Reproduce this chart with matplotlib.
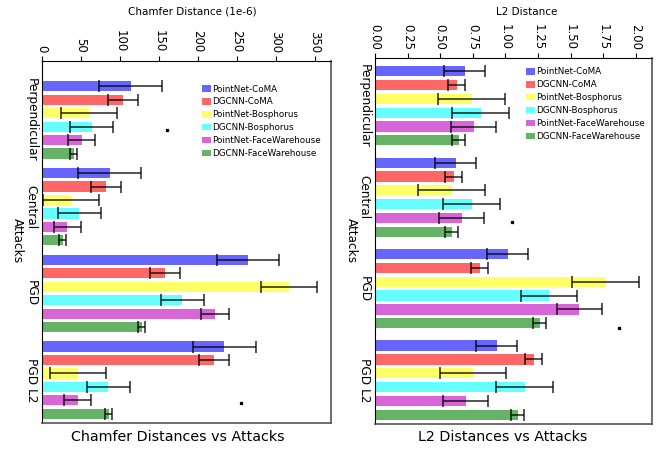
import numpy as np
import matplotlib
matplotlib.use("Agg")
import matplotlib.pyplot as plt

attacks = ["Perpendicular", "Central", "PGD", "PGD L2"]
models = ["PointNet-CoMA", "DGCNN-CoMA", "PointNet-Bosphorus",
          "DGCNN-Bosphorus", "PointNet-FaceWarehouse", "DGCNN-FaceWarehouse"]
colors = ["blue", "red", "yellow", "cyan", "m", "g"]

# chamfer distance (1e-6), one row per model, one column per attack
chamfer_mean = [
    [114, 87, 264, 234],
    [104, 82, 158, 221],
    [61, 38, 317, 46],
    [64, 48, 180, 85],
    [51, 33, 222, 46],
    [41, 27, 128, 86],
]
chamfer_err = [40, 19, 36, 27.5, 17.5, 4.7]

l2_mean = [
    [0.687, 0.618, 1.017, 0.932],
    [0.626, 0.603, 0.802, 1.216],
    [0.741, 0.587, 1.768, 0.751],
    [0.810, 0.741, 1.333, 1.147],
    [0.756, 0.664, 1.568, 0.695],
    [0.641, 0.587, 1.262, 1.093],
]
l2_err = [0.156, 0.067, 0.255, 0.217, 0.171, 0.05]

# stray points in the figure
chamfer_dots_x = [160.7, 255.8]
chamfer_dots_y = [0.116, 3.261]
l2_dots_x = [1.05, 1.872]
l2_dots_y = [1.269, 2.435]


def draw(ax, means, errs, step, height, ylim, dots_x, dots_y):
    index = np.arange(len(attacks))
    for j, name in enumerate(models):
        ax.barh(index + (j - 2.5) * step, means[j], height=height,
                xerr=errs[j], color=colors[j], alpha=0.6, label=name,
                error_kw=dict(ecolor="black", elinewidth=1.1, capsize=4, capthick=1.1, alpha=0.85))
    ax.plot(dots_x, dots_y, "s", color="black", markersize=1.4)
    ax.set_ylim(*ylim)
    ax.set_yticks(index)
    ax.set_yticklabels(attacks, rotation=-90, va="center", fontsize=8.7)
    ax.tick_params(axis="y", length=0, pad=3)
    ax.xaxis.tick_top()
    ax.tick_params(axis="x", labelsize=8.5, labelrotation=-90, pad=2.5)
    for lab in ax.get_xticklabels():
        lab.set_va("bottom")
    for s in ["right", "bottom"]:
        ax.spines[s].set_color("#555555")
        ax.spines[s].set_linewidth(1.2)
    ax.legend(loc="upper left", frameon=False, fontsize=6.3, handlelength=1.0,
              handleheight=0.75, handletextpad=0.15, labelspacing=0.45,
              borderaxespad=0, borderpad=0)


fig = plt.figure(figsize=(6.65, 4.5), dpi=100)
ax1 = fig.add_axes([41.7 / 665, 27.3 / 450, 289.3 / 665, 361.7 / 450])
ax2 = fig.add_axes([375 / 665, 26 / 450, 277 / 665, 365.7 / 450])

draw(ax1, chamfer_mean, chamfer_err, 0.155, 0.118, (3.49, -0.68), chamfer_dots_x, chamfer_dots_y)
ax1.set_xticks([0, 50, 100, 150, 200, 250, 300, 350])
ax1.legend_.set_bbox_to_anchor((0.555, 0.935))

draw(ax2, l2_mean, l2_err, 0.151, 0.112, (3.48, -0.52), l2_dots_x, l2_dots_y)
ax2.set_xticks(np.arange(0, 2.01, 0.25))
ax2.set_xticklabels([f"{v:.2f}" for v in np.arange(0, 2.01, 0.25)])
ax2.legend_.set_bbox_to_anchor((0.545, 0.975))

fig.text(192 / 665, 1 - 12 / 450, "Chamfer Distance (1e-6)", ha="center", va="center", fontsize=7.5)
fig.text(527 / 665, 1 - 12 / 450, "L2 Distance", ha="center", va="center", fontsize=7.5)
fig.text(178 / 665, 1 - 437 / 450, "Chamfer Distances vs Attacks", ha="center", va="center", fontsize=10.3)
fig.text(503 / 665, 1 - 437 / 450, "L2 Distances vs Attacks", ha="center", va="center", fontsize=10.3)
fig.text(17 / 665, 1 - 241 / 450, "Attacks", ha="center", va="center", rotation=-90, fontsize=8.7)
fig.text(351 / 665, 1 - 241 / 450, "Attacks", ha="center", va="center", rotation=-90, fontsize=8.7)

fig.savefig("out.png", dpi=100)
